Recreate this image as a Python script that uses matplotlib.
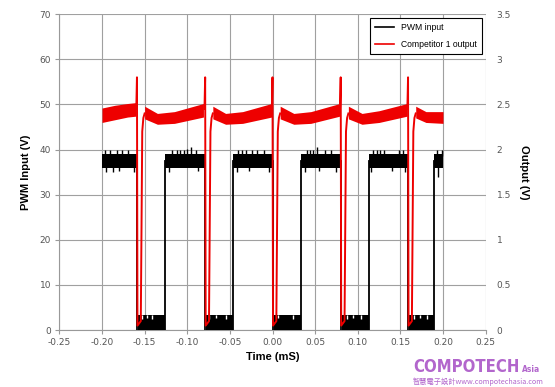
import matplotlib
matplotlib.use('Agg')
import matplotlib.pyplot as plt
from matplotlib.lines import Line2D

# PWM input (left axis, V)
fall_t = [-0.159, -0.079, 0.000, 0.080, 0.159]
rise_t = [-0.126, -0.046, 0.034, 0.113, 0.190]
t_start, t_end = -0.200, 0.200
pwm_hi_lo, pwm_hi_hi = 35.9, 39.1
pwm_lo_lo, pwm_lo_hi = 0.0, 3.3
up_spike_t = [-0.197, -0.191, -0.183, -0.176, -0.169, -0.118, -0.112, -0.109, -0.104,
              -0.100, -0.096, -0.090, -0.040, -0.036, -0.031, -0.024, -0.018, -0.010,
              0.040, 0.044, 0.047, 0.052, 0.061, 0.069, 0.118, 0.122, 0.126, 0.131,
              0.148, 0.153, 0.193, 0.199]
up_spike_v = [40.0, 40.0, 40.0, 40.0, 40.0, 40.0, 40.0, 40.0, 40.0,
              40.2, 40.6, 40.0, 40.0, 40.0, 40.0, 40.0, 40.0, 40.0,
              40.0, 40.0, 40.0, 40.5, 40.0, 40.0, 40.0, 40.0, 40.0, 40.0,
              40.0, 40.0, 40.0, 40.0]
dn_spike_t = [-0.195, -0.187, -0.180, -0.163, -0.122, -0.087, -0.042, -0.028, -0.004,
              0.038, 0.055, 0.074, 0.116, 0.140, 0.156, 0.194]
dn_spike_v = [35.0, 35.0, 35.2, 35.0, 35.0, 35.3, 35.0, 35.2, 35.0,
              35.0, 35.3, 35.0, 35.0, 35.2, 35.0, 34.0]
lo_notch_t = [-0.153, -0.147, -0.141, -0.074, -0.066, -0.055, 0.006, 0.024,
              0.087, 0.094, 0.104, 0.166, 0.173, 0.181]
lo_notch_v = [2.5, 2.6, 2.5, 2.4, 2.6, 2.5, 2.6, 2.4,
              2.5, 2.6, 2.5, 2.5, 2.6, 2.4]

# Competitor 1 output (right axis, V): band envelope knots per plateau
red_seg_t = [[-0.200, -0.185, -0.170, -0.160],
             [-0.150, -0.135, -0.115, -0.081],
             [-0.070, -0.055, -0.035, -0.001],
             [0.009, 0.025, 0.045, 0.079],
             [0.089, 0.105, 0.125, 0.158],
             [0.168, 0.180, 0.200]]
red_seg_lo = [[2.30, 2.33, 2.36, 2.37],
              [2.34, 2.28, 2.29, 2.36],
              [2.34, 2.28, 2.29, 2.36],
              [2.34, 2.28, 2.29, 2.37],
              [2.34, 2.28, 2.30, 2.37],
              [2.35, 2.30, 2.29]]
red_seg_hi = [[2.46, 2.49, 2.51, 2.52],
              [2.48, 2.40, 2.42, 2.51],
              [2.48, 2.40, 2.42, 2.51],
              [2.48, 2.40, 2.42, 2.51],
              [2.48, 2.40, 2.43, 2.51],
              [2.48, 2.42, 2.42]]
red_spike_dt = [-0.0008, 0.0000, 0.0006, 0.0045, 0.0062, 0.0075, 0.0090]
red_spike_v = [2.45, 2.80, 0.05, 0.10, 2.20, 2.35, 2.40]

fig = plt.figure(figsize=(5.55, 3.87), dpi=100)
ax = fig.add_axes([0.107, 0.147, 0.768, 0.8165])
ax2 = ax.twinx()

# black PWM
hi_edges = [t_start] + rise_t
hi_ends = fall_t + [t_end]
for a, b in zip(hi_edges, hi_ends):
    ax.fill_between([a, b], pwm_hi_lo, pwm_hi_hi, color='black', lw=0, zorder=3)
for a, b in zip(fall_t, rise_t):
    ax.fill_between([a + 0.0015, b], pwm_lo_lo, pwm_lo_hi, color='black', lw=0, zorder=3)
for t in fall_t + rise_t:
    ax.plot([t, t], [0, 37.5], color='black', lw=1.3, zorder=3)
ax.vlines(up_spike_t, 38.5, up_spike_v, color='black', lw=1.0, zorder=3)
ax.vlines(dn_spike_t, dn_spike_v, 36.5, color='black', lw=1.0, zorder=3)
ax.vlines(lo_notch_t, lo_notch_v, 3.4, color='white', lw=1.0, zorder=3)

# red output
for ts, lo, hi in zip(red_seg_t, red_seg_lo, red_seg_hi):
    ax2.fill_between(ts, lo, hi, color='#ee0000', lw=0, zorder=4)
for e in fall_t:
    ax2.plot([e + d for d in red_spike_dt], red_spike_v, color='#ee0000', lw=1.4, zorder=4)

ax.set_xlim(-0.25, 0.25)
ax.set_ylim(0, 70)
ax2.set_ylim(0, 3.5)
xt = [-0.25, -0.20, -0.15, -0.10, -0.05, 0.00, 0.05, 0.10, 0.15, 0.20, 0.25]
ax.set_xticks(xt)
ax.set_xticklabels(['%.2f' % v for v in xt])
ax.set_yticks(range(0, 71, 10))
rt = [0, 0.5, 1, 1.5, 2, 2.5, 3, 3.5]
ax2.set_yticks(rt)
ax2.set_yticklabels(['%g' % v for v in rt])

ax.grid(True, color='#a0a0a0', lw=0.8)
ax.set_axisbelow(True)
for a in (ax, ax2):
    for s in a.spines.values():
        s.set_visible(False)
    a.tick_params(length=3, width=0.8, color='#999999', labelsize=6.5,
                  labelcolor='#555555', pad=3)
ax.spines['left'].set_visible(True)
ax.spines['left'].set_color('#999999')
ax.spines['bottom'].set_visible(True)
ax.spines['bottom'].set_color('#999999')
ax2.tick_params(length=0, pad=8)

lab = dict(family='Liberation Sans', fontsize=8, fontweight='bold')
ax.set_xlabel('Time (mS)', labelpad=3, **lab)
ax.set_ylabel('PWM Input (V)', labelpad=6, **lab)
ax2.set_ylabel('Output (V)', rotation=270, labelpad=13, **lab)

handles = [Line2D([], [], color='black', lw=1.2), Line2D([], [], color='#ee0000', lw=1.2)]
leg = ax2.legend(handles, ['PWM input', 'Competitor 1 output'], loc='upper right',
                 bbox_to_anchor=(0.992, 0.987), borderaxespad=0, fancybox=False,
                 framealpha=1, edgecolor='black',
                 prop=dict(family='Liberation Sans', size=6.2),
                 handlelength=2.2, borderpad=0.6, labelspacing=0.9)
leg.get_frame().set_linewidth(0.8)
leg.set_zorder(10)

# watermark
purple = '#b266cc'
fig.text(413 / 555, 1 - 372 / 387, 'COMPOTECH', color=purple, fontsize=12,
         fontweight='bold', family='DejaVu Sans', fontstretch='condensed')
fig.text(522 / 555, 1 - 372 / 387, 'Asia', color=purple, fontsize=6,
         fontweight='bold', family='DejaVu Sans', fontstretch='condensed')
fig.text(413 / 555, 1 - 384 / 387, '智慧電子設計www.compotechasia.com', color=purple,
         fontsize=5.2, family=['Noto Sans CJK TC', 'DejaVu Sans'])

fig.savefig('out.png', dpi=100)
